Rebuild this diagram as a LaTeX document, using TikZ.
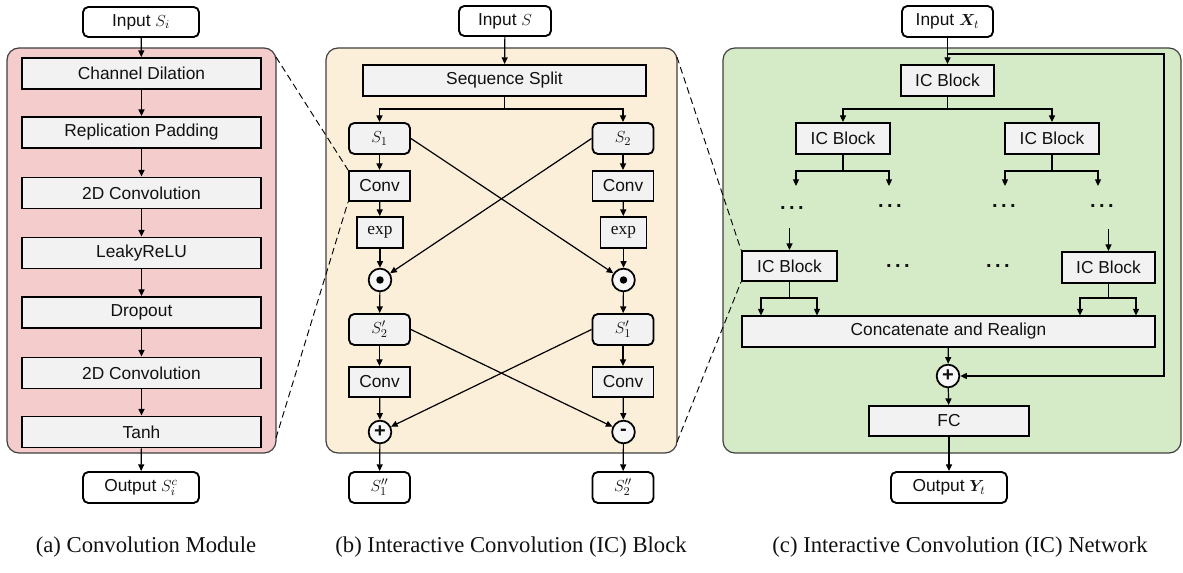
\documentclass[tikz,border=0pt]{standalone}
\usepackage{fontspec}
\usepackage{bm}
\setmainfont{Liberation Serif}
\setsansfont{Liberation Sans}
\usetikzlibrary{arrows.meta,calc}
\definecolor{pinkbg}{HTML}{F4CCCC}
\definecolor{yelbg}{HTML}{FBEFD9}
\definecolor{grnbg}{HTML}{D5EBC8}
\definecolor{boxgray}{HTML}{F2F2F2}
\definecolor{txt}{HTML}{111111}
\newcommand{\dotsrow}{.\kern2.6pt.\kern2.6pt.}
\begin{document}
\begin{tikzpicture}[x=0.75pt,y=-0.75pt,
 font=\sffamily\fontsize{13}{15}\selectfont, text=txt,
 sz/.style 2 args={minimum width=#1*0.75pt, minimum height=#2*0.75pt, inner sep=0pt},
 blk/.style={draw=black, line width=1.4pt, fill=boxgray},
 rblk/.style={blk, rounded corners=4pt},
 io/.style={draw=black, line width=1.4pt, fill=white, rounded corners=4pt},
 op/.style={circle, draw=black, line width=1.3pt, fill=boxgray!60, minimum size=17pt, inner sep=0pt},
 panel/.style={draw=black!75, line width=0.9pt, rounded corners=9pt},
 arr/.style={-{Triangle[length=5pt,width=4.5pt]}, line width=0.9pt},
 ln/.style={line width=0.9pt},
 dsh/.style={dash pattern=on 5pt off 3pt, line width=0.7pt},
 captxt/.style={font=\rmfamily\fontsize{17}{20}\selectfont},
 dotstxt/.style={font=\sffamily\bfseries\fontsize{15}{17}\selectfont, inner sep=0pt},
 optxt/.style={font=\sffamily\bfseries\fontsize{15}{17}\selectfont}
]
\useasboundingbox (0,0) rectangle (1183,573);

% ---------------- panels
\draw[panel, fill=pinkbg] (7,48) rectangle (276,453);
\draw[panel, fill=yelbg] (326,48) rectangle (677,453);
\draw[panel, fill=grnbg] (723,48) rectangle (1181,453);

% ---------------- (a) Convolution Module
\node[io, sz={116}{30}] (ain) at (141,22) {Input $S_i$};
\node[blk, sz={239}{31}] (a1) at (141.5,73.5) {Channel Dilation};
\node[blk, sz={239}{31}] (a2) at (141.5,132.5) {Replication Padding};
\node[blk, sz={239}{31}] (a3) at (141.5,193) {2D Convolution};
\node[blk, sz={239}{31}] (a4) at (141.5,253) {LeakyReLU};
\node[blk, sz={239}{31}] (a5) at (141.5,312.5) {Dropout};
\node[blk, sz={239}{31}] (a6) at (141.5,373) {2D Convolution};
\node[blk, sz={239}{31}] (a7) at (141.5,432) {Tanh};
\node[io, sz={116}{31}] (aout) at (141,487.5) {Output $S_i^{c}$};
\draw[arr] (ain) -- (a1);
\draw[arr] (a1) -- (a2);
\draw[arr] (a2) -- (a3);
\draw[arr] (a3) -- (a4);
\draw[arr] (a4) -- (a5);
\draw[arr] (a5) -- (a6);
\draw[arr] (a6) -- (a7);
\draw[arr] (a7) -- (aout);

% ---------------- (b) IC Block
\node[io, sz={92}{30}] (bin) at (505,21) {Input $S$};
\node[blk, sz={283}{31}] (split) at (504.5,80.5) {Sequence Split};
\node[rblk, sz={61}{31}] (s1) at (379.5,138.5) {$S_1$};
\node[rblk, sz={61}{31}] (s2) at (623,138.5) {$S_2$};
\node[blk, sz={61}{30}] (cvL) at (379.5,186) {Conv};
\node[blk, sz={61}{30}] (cvR) at (623,186) {Conv};
\node[blk, sz={46}{31}, font=\rmfamily\fontsize{13}{15}\selectfont] (expL) at (380,232.5) {exp};
\node[blk, sz={46}{31}, font=\rmfamily\fontsize{13}{15}\selectfont] (expR) at (623.5,232.5) {exp};
\node[op] (odL) at (380,280) {};
\node[op] (odR) at (623.5,280) {};
\fill[black] (odL.center) circle (2.8pt);
\fill[black] (odR.center) circle (2.8pt);
\node[rblk, sz={61}{31}] (s2p) at (379.5,329.5) {$S_2'$};
\node[rblk, sz={61}{31}] (s1p) at (623,329.5) {$S_1'$};
\node[blk, sz={61}{30}] (cv2L) at (379.5,382) {Conv};
\node[blk, sz={61}{30}] (cv2R) at (623,382) {Conv};
\node[op, optxt] (plus) at (380,432) {+};
\node[op, optxt] (minus) at (623.5,432) {-};
\node[io, sz={61}{31}] (o1) at (379.5,487.5) {$S_1''$};
\node[io, sz={61}{31}] (o2) at (623,487.5) {$S_2''$};

\draw[arr] (bin) -- (split);
\draw[ln] (split.south) -- ++(0,12) coordinate (bsp);
\draw[arr] (bsp) -| (s1);
\draw[arr] (bsp) -| (s2);
\draw[arr] (s1) -- (cvL);
\draw[arr] (cvL) -- (expL);
\draw[arr] (expL) -- (odL);
\draw[arr] (odL) -- (s2p);
\draw[arr] (s2p) -- (cv2L);
\draw[arr] (cv2L) -- (plus);
\draw[arr] (plus) -- (o1);
\draw[arr] (s2) -- (cvR);
\draw[arr] (cvR) -- (expR);
\draw[arr] (expR) -- (odR);
\draw[arr] (odR) -- (s1p);
\draw[arr] (s1p) -- (cv2R);
\draw[arr] (cv2R) -- (minus);
\draw[arr] (minus) -- (o2);
\draw[arr] (s1.east) -- (odR);
\draw[arr] (s2.west) -- (odL);
\draw[arr] (s2p.east) -- (minus);
\draw[arr] (s1p.west) -- (plus);

% ---------------- (c) IC Network
\node[io, sz={91}{31}] (cin) at (947.5,21.5) {Input $\bm{X}_t$};
\node[blk, sz={93}{31}] (ic1) at (947.5,80.5) {IC Block};
\node[blk, sz={94}{31}] (icL2) at (843,138.5) {IC Block};
\node[blk, sz={94}{31}] (icR2) at (1052,138.5) {IC Block};
\node[dotstxt] (d1) at (792,208) {\dotsrow};
\node[dotstxt] (d2) at (890,206) {\dotsrow};
\node[dotstxt] (d3) at (1004,206) {\dotsrow};
\node[dotstxt] (d4) at (1102,206) {\dotsrow};
\node[blk, sz={95}{30}] (icL3) at (789.5,266) {IC Block};
\node[blk, sz={93}{31}] (icR3) at (1108.5,267.5) {IC Block};
\node[dotstxt] (d5) at (898,266) {\dotsrow};
\node[dotstxt] (d6) at (998,266) {\dotsrow};
\node[blk, sz={413}{31}] (concat) at (948.5,331.5) {Concatenate and Realign};
\node[op, optxt] (cplus) at (948,376) {+};
\node[blk, sz={160}{30}] (fc) at (949,421) {FC};
\node[io, sz={116}{31}] (cout) at (949,487.5) {Output $\bm{Y}_t$};

\coordinate (fb) at (947.5,54);
\coordinate (fbr) at (1164,54);
\draw[arr] (cin) -- (ic1);
\draw[arr] (fb) -- (fbr) |- (cplus.east);

\draw[ln] (ic1.south) -- ++(0,12) coordinate (c1b);
\draw[arr] (c1b) -| (icL2);
\draw[arr] (c1b) -| (icR2);

\coordinate (l2a) at (796,186);
\coordinate (l2c) at (889,186);
\coordinate (r2a) at (1005,186);
\coordinate (r2c) at (1098,186);
\draw[ln] (icL2.south) -- ++(0,16) coordinate (l2b);
\draw[arr] (l2b) -| (l2a);
\draw[arr] (l2b) -| (l2c);
\draw[ln] (icR2.south) -- ++(0,16) coordinate (r2b);
\draw[arr] (r2b) -| (r2a);
\draw[arr] (r2b) -| (r2c);

\coordinate (l3s) at (789.5,228);
\coordinate (r3s) at (1108.5,229);
\draw[arr] (l3s) -- (icL3);
\draw[arr] (r3s) -- (icR3);

\coordinate (l3a) at (761,315.5);
\coordinate (l3c) at (817,315.5);
\coordinate (r3a) at (1080,315.5);
\coordinate (r3c) at (1136,315.5);
\draw[ln] (icL3.south) -- ++(0,16) coordinate (l3b);
\draw[arr] (l3b) -| (l3a);
\draw[arr] (l3b) -| (l3c);
\draw[ln] (icR3.south) -- ++(0,14) coordinate (r3b);
\draw[arr] (r3b) -| (r3a);
\draw[arr] (r3b) -| (r3c);

\draw[arr] (concat) -- (cplus);
\draw[arr] (cplus) -- (fc);
\draw[arr] (fc) -- (cout);

% ---------------- dashed zoom lines
\coordinate (pa1) at (276,57);
\coordinate (pa2) at (276,438);
\coordinate (pb1) at (677,57);
\coordinate (pb2) at (677,442);
\draw[dsh] (pa1) -- (cvL.north west);
\draw[dsh] (pa2) -- (cvL.south west);
\draw[dsh] (pb1) -- (icL3.north west);
\draw[dsh] (pb2) -- (icL3.south west);

% ---------------- captions
\node[captxt] (capa) at (146,547) {(a) Convolution Module};
\node[captxt] (capb) at (511,547) {(b) Interactive Convolution (IC) Block};
\node[captxt] (capc) at (960,547) {(c) Interactive Convolution (IC) Network};
\end{tikzpicture}
\end{document}
